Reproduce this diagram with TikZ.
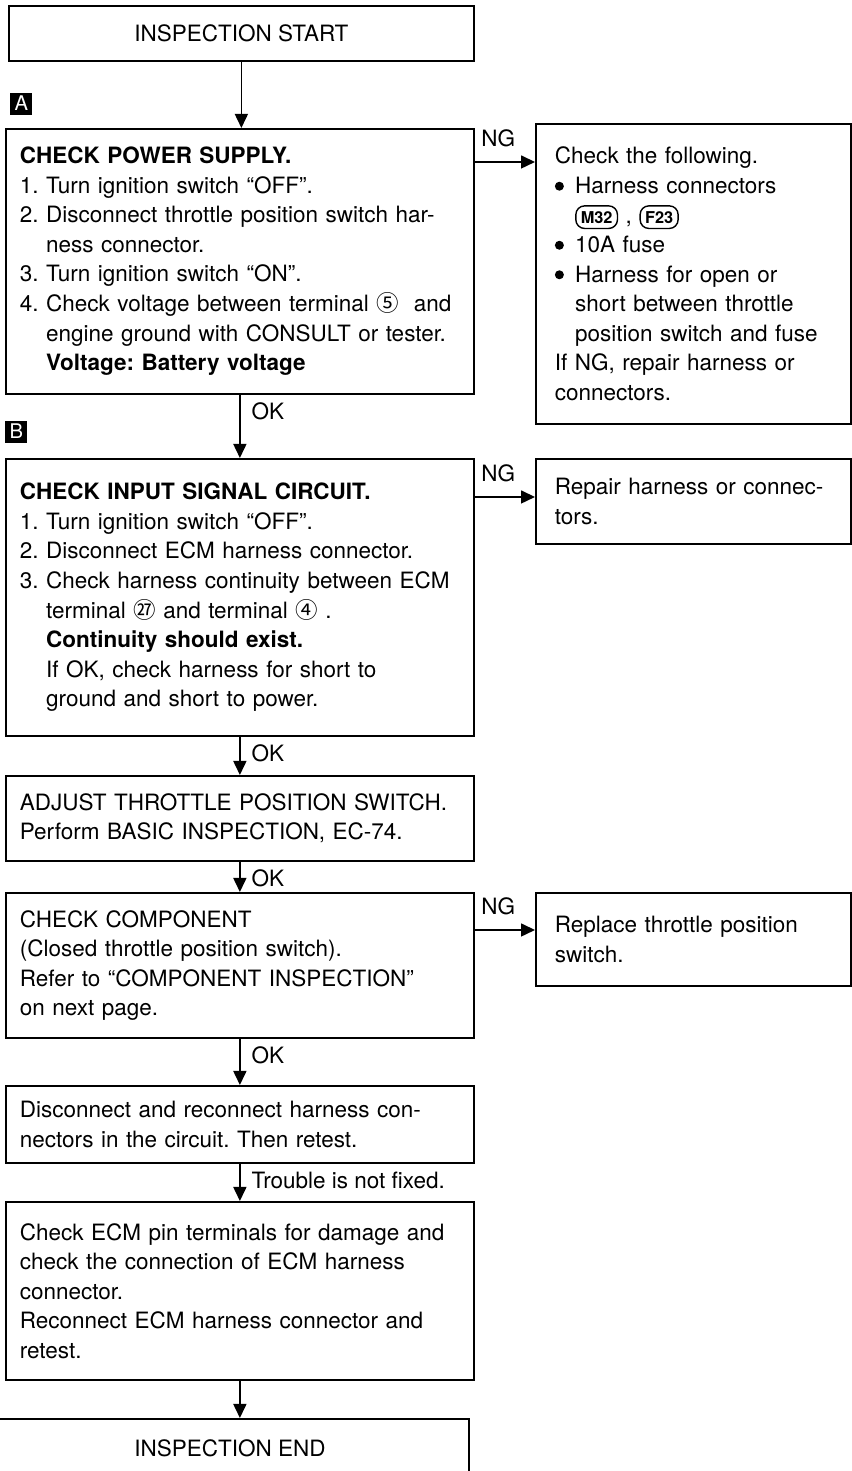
\documentclass[tikz,border=0pt]{standalone}
\usepackage{fontspec}
\setmainfont{TeX Gyre Heros}
\newfontfamily\cjk{Noto Sans CJK SC}
\usetikzlibrary{arrows.meta,positioning}
\frenchspacing

\newcommand{\cont}{\phantom{2.\ }}
\newcommand{\bul}{\tikz[baseline=-0.62ex]\fill (0,0) circle (0.09cm);\hspace{0.5em}}
\newcommand{\bcont}{\phantom{\bul}}
\newcommand{\circnum}[1]{{\cjk #1}}
\newcommand{\connsym}[1]{\tikz[baseline=(cs.base)]\node[draw,line width=0.8pt,
    rounded corners=5pt,inner xsep=2.8pt,inner ysep=3pt,text width=,
    minimum width=0pt,minimum height=0pt,
    font=\bfseries\fontsize{9.3}{10}\selectfont] (cs) {#1};}

\begin{document}
\begin{tikzpicture}[x=1cm,y=1cm,
    font=\fontsize{12.8}{16.8}\selectfont,
    >={Triangle[length=0.28cm,width=0.26cm]},
    box/.style={draw,line width=1pt,anchor=north west,align=left,
        inner xsep=0.10cm,execute at begin node={\leftskip=0.18cm}},
    mainbox/.style={box,text width=9.16cm},
    ngbox/.style={box,text width=6.10cm,
        execute at begin node={\leftskip=0.28cm}},
    endbox/.style={draw,line width=1pt,anchor=north west},
    marker/.style={fill=black,text=white,inner sep=0pt,minimum size=0.44cm,
        font=\fontsize{11.5}{12}\selectfont},
    flow/.style={->,line width=0.9pt},
    oklab/.style={pos=0,below right=0.03cm and 0.10cm}]
    \useasboundingbox (0,0) rectangle (17.02,29.42);

    % main column
    \node[endbox,minimum width=9.30cm,minimum height=1.10cm] (insstart)
        at (0.16,29.32) {INSPECTION START};

    \node[mainbox,minimum height=5.30cm] (psup) at (0.10,26.86)
        {\textbf{CHECK POWER SUPPLY.}\\
         1. Turn ignition switch “OFF”.\\
         2. Disconnect throttle position switch har-\\
         \cont ness connector.\\
         3. Turn ignition switch “ON”.\\
         4. Check voltage between terminal \circnum{⑤}~ and\\
         \cont engine ground with CONSULT or tester.\\
         \cont\textbf{Voltage: Battery voltage}};
    \node[marker,above right=0.26cm and 0.10cm of psup.north west] (markA) {A};

    \node[mainbox,minimum height=5.54cm] (insig) at (0.10,20.26)
        {\textbf{CHECK INPUT SIGNAL CIRCUIT.}\\
         1. Turn ignition switch “OFF”.\\
         2. Disconnect ECM harness connector.\\
         3. Check harness continuity between ECM\\
         \cont terminal \circnum{㉗} and terminal \circnum{④} .\\
         \cont\textbf{Continuity should exist.}\\
         \cont If OK, check harness for short to\\
         \cont ground and short to power.};
    \node[marker,above right=0.30cm and 0.00cm of insig.north west] (markB) {B};

    \node[mainbox,minimum height=1.70cm] (adj) at (0.10,13.92)
        {ADJUST THROTTLE POSITION SWITCH.\\
         Perform BASIC INSPECTION, EC-74.};

    \node[mainbox,minimum height=2.90cm] (comp) at (0.10,11.58)
        {CHECK COMPONENT\\
         (Closed throttle position switch).\\
         Refer to “COMPONENT INSPECTION”\\
         on next page.};

    \node[mainbox,minimum height=1.54cm] (recon) at (0.10,7.72)
        {Disconnect and reconnect harness con-\\
         nectors in the circuit. Then retest.};

    \node[mainbox,minimum height=3.56cm] (ecm) at (0.10,5.40)
        {Check ECM pin terminals for damage and\\
         check the connection of ECM harness\\
         connector.\\
         Reconnect ECM harness connector and\\
         retest.};

    \node[endbox,minimum width=9.56cm,minimum height=1.16cm] (insend)
        at (-0.20,1.06) {INSPECTION END};

    % NG column
    \node[ngbox,minimum height=6.00cm] (ng1) at (10.70,26.96)
        {Check the following.\\
         \bul Harness connectors\\
         \bcont\connsym{M32} , \connsym{F23}\\
         \bul 10A fuse\\
         \bul Harness for open or\\
         \bcont short between throttle\\
         \bcont position switch and fuse\\
         If NG, repair harness or\\
         connectors.};

    \node[ngbox,minimum height=1.70cm] (ng2) at (10.70,20.26)
        {Repair harness or connec-\\
         tors.};

    \node[ngbox,minimum height=1.86cm] (ng3) at (10.70,11.58)
        {Replace throttle position\\
         switch.};

    % flow down
    \draw[flow] (insstart.south) -- (insstart.south |- psup.north);
    \draw[flow] (psup.south) -- (psup.south |- insig.north)
        node[oklab] (okA) {OK};
    \draw[flow] (insig.south) -- (insig.south |- adj.north)
        node[oklab] (okB) {OK};
    \draw[flow] (adj.south) -- (adj.south |- comp.north)
        node[oklab] (okC) {OK};
    \draw[flow] (comp.south) -- (comp.south |- recon.north)
        node[oklab] (okD) {OK};
    \draw[flow] (recon.south) -- (recon.south |- ecm.north)
        node[oklab] (notfixed) {Trouble is not fixed.};
    \draw[flow] (ecm.south) -- (ecm.south |- insend.north);

    % NG branches
    \coordinate (ngA) at ([yshift=-0.68cm]psup.north east);
    \coordinate (ngB) at ([yshift=-0.78cm]insig.north east);
    \coordinate (ngC) at ([yshift=-0.76cm]comp.north east);
    \draw[flow] (ngA) -- (ngA -| ng1.west)
        node[pos=0.39,above=0.16cm] (ngAlab) {NG};
    \draw[flow] (ngB) -- (ngB -| ng2.west)
        node[pos=0.39,above=0.16cm] (ngBlab) {NG};
    \draw[flow] (ngC) -- (ngC -| ng3.west)
        node[pos=0.39,above=0.16cm] (ngClab) {NG};
\end{tikzpicture}
\end{document}
